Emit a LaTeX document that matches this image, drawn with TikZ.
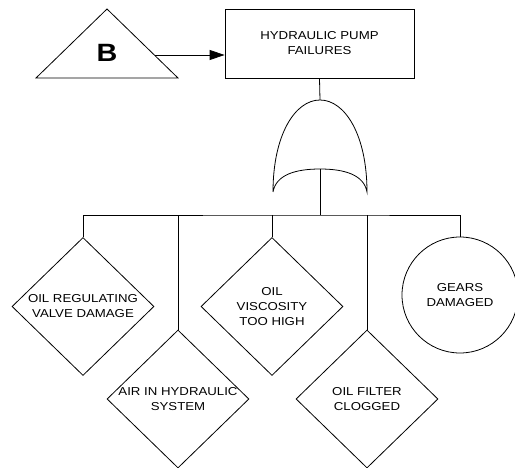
\documentclass[tikz,border=0pt]{standalone}
\usepackage{fontspec}
\newfontfamily\treefont[FakeStretch=1.15]{Liberation Sans}
\usetikzlibrary{shapes.geometric,arrows.meta}

\tikzset{
  wire/.style={line width=0.8pt},
  event/.style={draw, wire, align=center, inner sep=0pt, font=\treefont\fontsize{11.5}{15}\selectfont},
  basic/.style={event, diamond, minimum width=142pt, minimum height=138pt},
}

\begin{document}
\begin{tikzpicture}[x=1pt, y=-1pt]
  \useasboundingbox (0,0) rectangle (515,468);

  % top event
  \node[event, rectangle, minimum width=189pt, minimum height=69pt] (pump) at (319.5, 43.5) {HYDRAULIC PUMP\\FAILURES};

  % transfer in
  \draw[wire] (36,78) -- (107,9) -- (178,78) -- cycle;
  \node[font=\treefont\fontsize{25}{25}\selectfont\bfseries] (transfer) at (107,53) {B};
  \coordinate (tout) at (155,55);
  \draw[wire, -{Triangle[length=15pt,width=10pt]}] (tout) -- (tout -| pump.west);

  % OR gate
  \coordinate (gtop) at (320,100);
  \coordinate (gbot) at (320,169);
  \draw[wire] (273,192) .. controls (273,135) and (295,100) .. (gtop)
    .. controls (345,100) and (367,135) .. (367,192)
    .. controls (364,175) and (345,169) .. (gbot)
    .. controls (295,169) and (276,175) .. (273,192);
  \draw[wire] (pump.south) -- (gtop);

  % basic events
  \node[basic] (valve) at (83,306.5) {OIL REGULATING\\VALVE DAMAGE};
  \node[basic, inner sep=-2pt] (air) at (178,399) {AIR IN HYDRAULIC\\SYSTEM};
  \node[basic] (visc) at (272,306.5) {OIL\\VISCOSITY\\TOO HIGH};
  \node[basic] (filter) at (367,399) {OIL FILTER\\CLOGGED};
  \node[event, circle, minimum size=116pt] (gears) at (460,295) {GEARS\\DAMAGED};

  % branches
  \coordinate (bus) at (320,215);
  \draw[wire] (gbot) -- (bus);
  \draw[wire] (valve.north) |- (bus) -| (gears.north);
  \foreach \n in {air, visc, filter}
    \draw[wire] (\n.north) -- (\n.north |- bus);

\end{tikzpicture}
\end{document}
